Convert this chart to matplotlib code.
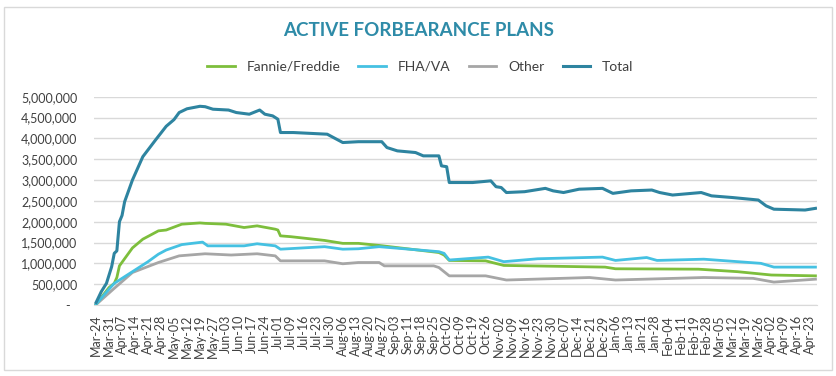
import numpy as np
import matplotlib
matplotlib.use("Agg")
import matplotlib.pyplot as plt
from matplotlib.patches import Rectangle
from matplotlib.ticker import FuncFormatter

plt.rcParams["font.family"] = ["Lato", "DejaVu Sans"]

# x = business-day number counted from Mar-24 (labels every 5th business day)
tick_labels = [
    "Mar-24", "Mar-31", "Apr-07", "Apr-14", "Apr-21", "Apr-28", "May-05", "May-12",
    "May-19", "May-27", "Jun-03", "Jun-10", "Jun-17", "Jun-24", "Jul-01", "Jul-09",
    "Jul-16", "Jul-23", "Jul-30", "Aug-06", "Aug-13", "Aug-20", "Aug-27", "Sep-03",
    "Sep-11", "Sep-18", "Sep-25", "Oct-02", "Oct-09", "Oct-19", "Oct-26", "Nov-02",
    "Nov-09", "Nov-16", "Nov-23", "Nov-30", "Dec-07", "Dec-14", "Dec-21", "Dec-29",
    "Jan-06", "Jan-13", "Jan-21", "Jan-28", "Feb-04", "Feb-11", "Feb-19", "Feb-28",
    "Mar-05", "Mar-12", "Mar-19", "Mar-26", "Apr-02", "Apr-09", "Apr-16", "Apr-23",
]

total_day = [0, 2, 4, 6, 7, 8, 9, 10, 11, 14, 18, 23, 27, 30, 32, 35, 40, 42, 45, 51,
             54, 59, 63, 65, 68, 70, 71, 76, 89, 95, 101, 110, 112, 116, 123, 126, 132,
             133, 135, 136, 145, 152, 154, 156, 158, 165, 173, 176, 180, 186, 195, 199,
             206, 214, 217, 222, 233, 237, 245, 255, 258, 261, 273, 277]
total_val = [60e3, 320e3, 520e3, 920e3, 1.24e6, 1.30e6, 2.00e6, 2.15e6, 2.48e6, 3.00e6,
             3.56e6, 3.97e6, 4.29e6, 4.45e6, 4.62e6, 4.71e6, 4.77e6, 4.76e6, 4.70e6,
             4.68e6, 4.62e6, 4.58e6, 4.68e6, 4.58e6, 4.54e6, 4.46e6, 4.14e6, 4.14e6,
             4.10e6, 3.90e6, 3.92e6, 3.92e6, 3.78e6, 3.70e6, 3.66e6, 3.58e6, 3.58e6,
             3.34e6, 3.32e6, 2.94e6, 2.94e6, 2.98e6, 2.84e6, 2.82e6, 2.70e6, 2.72e6,
             2.80e6, 2.74e6, 2.70e6, 2.78e6, 2.80e6, 2.68e6, 2.74e6, 2.76e6, 2.70e6,
             2.64e6, 2.70e6, 2.62e6, 2.58e6, 2.52e6, 2.38e6, 2.30e6, 2.28e6, 2.32e6]

gse_day = [0, 5, 7, 8, 9, 14, 18, 24, 27, 33, 40, 42, 50, 57, 62, 69, 70, 71, 75, 88,
           95, 101, 109, 132, 134, 136, 150, 157, 196, 200, 232, 247, 260, 277]
gse_val = [20e3, 420e3, 520e3, 660e3, 940e3, 1.37e6, 1.58e6, 1.78e6, 1.80e6, 1.94e6,
           1.97e6, 1.96e6, 1.94e6, 1.86e6, 1.90e6, 1.82e6, 1.80e6, 1.66e6, 1.64e6,
           1.55e6, 1.48e6, 1.48e6, 1.43e6, 1.26e6, 1.20e6, 1.07e6, 1.06e6, 0.95e6,
           0.91e6, 0.87e6, 0.86e6, 0.80e6, 0.72e6, 0.70e6]

fha_day = [0, 5, 7, 14, 20, 24, 27, 33, 41, 43, 57, 62, 69, 71, 88, 95, 101, 109, 132,
           134, 136, 151, 157, 170, 195, 200, 212, 216, 234, 256, 261, 277]
fha_val = [20e3, 380e3, 520e3, 800e3, 1.04e6, 1.22e6, 1.32e6, 1.45e6, 1.51e6, 1.42e6,
           1.42e6, 1.47e6, 1.42e6, 1.34e6, 1.40e6, 1.34e6, 1.35e6, 1.40e6, 1.28e6,
           1.24e6, 1.08e6, 1.15e6, 1.04e6, 1.11e6, 1.15e6, 1.07e6, 1.14e6, 1.07e6,
           1.10e6, 1.00e6, 0.91e6, 0.91e6]

other_day = [0, 7, 14, 19, 24, 32, 42, 52, 62, 69, 71, 88, 95, 101, 109, 111, 130, 132,
             136, 150, 158, 190, 200, 234, 253, 261, 277]
other_val = [10e3, 400e3, 780e3, 900e3, 1.02e6, 1.18e6, 1.23e6, 1.20e6, 1.23e6, 1.18e6,
             1.06e6, 1.06e6, 0.99e6, 1.02e6, 1.02e6, 0.94e6, 0.94e6, 0.90e6, 0.70e6,
             0.70e6, 0.60e6, 0.66e6, 0.60e6, 0.66e6, 0.64e6, 0.55e6, 0.62e6]

fig = plt.figure(figsize=(8.37, 3.76), dpi=100)
ax = fig.add_axes([0.1123, 0.1888, 0.8635, 0.554])

ax.plot(gse_day, gse_val, color="#7DBE3C", lw=2.0, label="Fannie/Freddie", zorder=3)
ax.plot(fha_day, fha_val, color="#45C1E2", lw=2.0, label="FHA/VA", zorder=3)
ax.plot(other_day, other_val, color="#A6A6A6", lw=2.0, label="Other", zorder=2)
ax.plot(total_day, total_val, color="#2E84A0", lw=2.2, label="Total", zorder=4)

ax.set_xlim(-0.8, 277.5)
ax.set_ylim(0, 5e6)
ax.set_yticks(np.arange(0, 5.0e6 + 1, 5e5))
ax.yaxis.set_major_formatter(FuncFormatter(lambda v, p: "-  " if v == 0 else f"{v:,.0f}"))
ax.set_xticks(np.arange(0, 5 * len(tick_labels), 5))
ax.set_xticklabels(tick_labels, rotation=90)
ax.tick_params(axis="y", length=0, pad=12, labelsize=9, colors="#404040")
ax.tick_params(axis="x", length=0, pad=7, labelsize=9, colors="#404040")
ax.grid(axis="y", color="#D9D9D9", lw=1)
for s in ["top", "right", "left"]:
    ax.spines[s].set_visible(False)
ax.spines["bottom"].set_color("#D9D9D9")

fig.text(0.5, 0.918, "ACTIVE FORBEARANCE PLANS", ha="center", va="center",
         fontsize=13.5, fontweight="bold", color="#2E8BA8")
fig.legend(loc="center", bbox_to_anchor=(0.502, 0.822), ncol=4, frameon=False,
           fontsize=10, handlelength=2.0, handletextpad=0.85, columnspacing=1.3,
           labelcolor="#404040")

fig.patches.append(Rectangle((4 / 837, 6 / 376), 828 / 837, 363 / 376,
                             transform=fig.transFigure, fill=False,
                             edgecolor="#D9D9D9", lw=1))

fig.savefig("out.png", dpi=100)
